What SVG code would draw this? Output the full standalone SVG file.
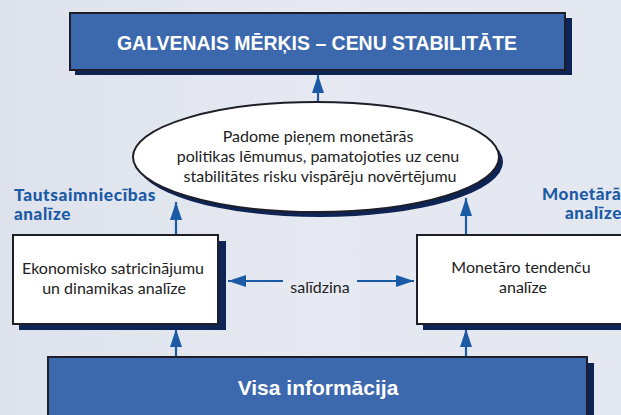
<svg xmlns="http://www.w3.org/2000/svg" width="621" height="415" viewBox="0 0 621 415">
<defs>
<style>
.shadow{fill:#0d2454}
.bluebox{fill:#3c68ae;stroke:#1e1e28;stroke-width:2}
.whitebox{fill:#ffffff;stroke:#1e1e28;stroke-width:2}
.conn{stroke:#1b5aa5;stroke-width:2.2;fill:none;marker-end:url(#ah)}
.title{font-family:"Liberation Sans",Arial,sans-serif;font-weight:bold;fill:#ffffff;font-size:21px;text-anchor:middle}
.body{font-family:Lato,"Open Sans","Liberation Sans",sans-serif;fill:#222222;font-size:16px;text-anchor:middle}
.label{font-family:Lato,"Open Sans","Liberation Sans",sans-serif;font-weight:900;fill:#1b5aa5;font-size:17px;letter-spacing:0.6px}
</style>
<marker id="ah" viewBox="0 0 18 12" refX="18" refY="6" markerWidth="18" markerHeight="12" markerUnits="userSpaceOnUse" orient="auto">
<path d="M0,0 L18,6 L0,12 Z" fill="#1b5aa5"/>
</marker>
<linearGradient id="bgg" x1="0" y1="0" x2="1" y2="0">
<stop offset="0" stop-color="#dde2ec"/>
<stop offset="0.5" stop-color="#e6e9f1"/>
<stop offset="1" stop-color="#e3e7ef"/>
</linearGradient>
</defs>
<rect x="0" y="0" width="621" height="415" fill="url(#bgg)"/>

<g id="connectors">
<line class="conn" x1="318" y1="103" x2="318" y2="75"/>
<line class="conn" x1="176" y1="235" x2="176" y2="202"/>
<line class="conn" x1="466" y1="235" x2="466" y2="198"/>
<line class="conn" x1="176" y1="358" x2="176" y2="329"/>
<line class="conn" x1="466" y1="358" x2="466" y2="329"/>
<line class="conn" x1="283" y1="281" x2="228" y2="281"/>
<line class="conn" x1="357" y1="281" x2="414" y2="281"/>
<text class="body" x="320" y="293">salīdzina</text>
</g>

<g id="goal">
<rect class="shadow" x="75" y="18" width="497" height="57"/>
<rect class="bluebox" x="70" y="13" width="495" height="57"/>
<text class="title" x="317" y="50" textLength="400" lengthAdjust="spacingAndGlyphs">GALVENAIS MĒRĶIS – CENU STABILITĀTE</text>
</g>

<g id="council">
<ellipse class="shadow" cx="320" cy="162" rx="183" ry="55"/>
<ellipse cx="316" cy="157" rx="183" ry="55" fill="#ffffff" stroke="#1e1e28" stroke-width="2"/>
<text class="body" x="318" y="142">Padome pieņem monetārās</text>
<text class="body" x="318" y="162">politikas lēmumus, pamatojoties uz cenu</text>
<text class="body" x="320" y="182">stabilitātes risku vispārēju novērtējumu</text>
</g>

<g id="label-left">
<text class="label" x="14" y="201" textLength="142" lengthAdjust="spacingAndGlyphs">Tautsaimniecības</text>
<text class="label" x="14" y="220" textLength="57" lengthAdjust="spacingAndGlyphs">analīze</text>
</g>

<g id="label-right">
<text class="label" x="542" y="200">Monetārā</text>
<text class="label" x="565" y="219" textLength="57" lengthAdjust="spacingAndGlyphs">analīze</text>
</g>

<g id="economic">
<rect class="shadow" x="19" y="241" width="207" height="89"/>
<rect class="whitebox" x="13" y="235" width="205" height="89"/>
<text class="body" x="113" y="274">Ekonomisko satricinājumu</text>
<text class="body" x="114" y="294">un dinamikas analīze</text>
</g>

<g id="monetary">
<rect class="shadow" x="423" y="241" width="210" height="89"/>
<rect class="whitebox" x="417" y="235" width="210" height="89"/>
<text class="body" x="521" y="273">Monetāro tendenču</text>
<text class="body" x="523" y="293">analīze</text>
</g>

<g id="info">
<rect class="shadow" x="55" y="363" width="539" height="60"/>
<rect class="bluebox" x="48" y="357" width="539" height="62"/>
<text class="title" x="318" y="395">Visa informācija</text>
</g>
</svg>
